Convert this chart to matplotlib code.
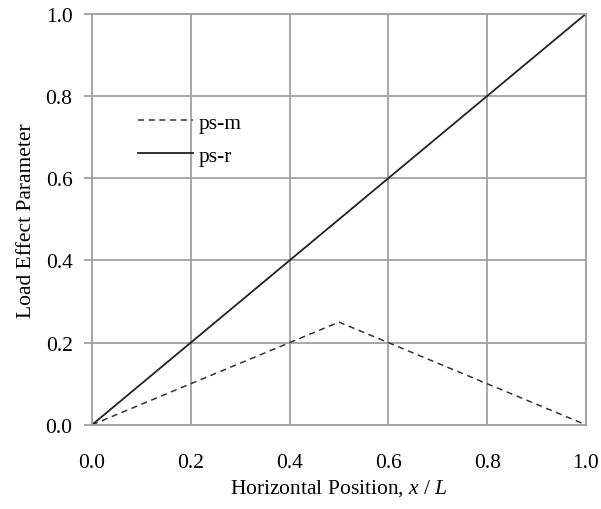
import matplotlib
matplotlib.use("Agg")
import matplotlib.pyplot as plt

# chart data
x_m = [0.0, 0.5, 1.0]
y_m = [0.0, 0.25, 0.0]
x_r = [0.0, 1.0]
y_r = [0.0, 1.0]
ticks = [0.0, 0.2, 0.4, 0.6, 0.8, 1.0]
tick_labels = ["0.0", "0.2", "0.4", "0.6", "0.8", "1.0"]

plt.rcParams['font.family'] = ['Liberation Serif', 'DejaVu Serif']
plt.rcParams['mathtext.fontset'] = 'custom'
plt.rcParams['mathtext.it'] = 'Liberation Serif:italic'
plt.rcParams['mathtext.rm'] = 'Liberation Serif'

fig = plt.figure(figsize=(6.01, 5.10), dpi=100)
ax = fig.add_axes([0.153, 0.165, 0.822, 0.806])

ax.plot(x_m, y_m, color='#333333', linestyle=(0, (4, 3)), linewidth=1.1, label='ps-m')
ax.plot(x_r, y_r, color='#222222', linestyle='-', linewidth=1.3, label='ps-r')

ax.set_xlim(0, 1)
ax.set_ylim(0, 1)
ax.set_xticks(ticks)
ax.set_xticklabels(tick_labels)
ax.set_yticks(ticks)
ax.set_yticklabels(tick_labels)
ax.grid(True, color='#a0a0a0', linewidth=1.3)
ax.set_axisbelow(True)
for s in ax.spines.values():
    s.set_color('#a0a0a0')
    s.set_linewidth(1.3)
ax.tick_params(axis='y', length=6, width=1.3, color='#a0a0a0', labelsize=15.5, pad=8)
ax.tick_params(axis='x', length=0, labelsize=15.5, pad=20)

ax.set_xlabel(r"Horizontal Position, $x$ / $L$", fontsize=15.5, labelpad=4)
ax.set_ylabel("Load Effect Parameter", fontsize=15.5, labelpad=7)

leg = ax.legend(loc='upper left', bbox_to_anchor=(0.054, 0.807), frameon=False,
                fontsize=15.5, handlelength=2.55, handletextpad=0.25, labelspacing=0.6)

fig.savefig("out.png", dpi=100)
